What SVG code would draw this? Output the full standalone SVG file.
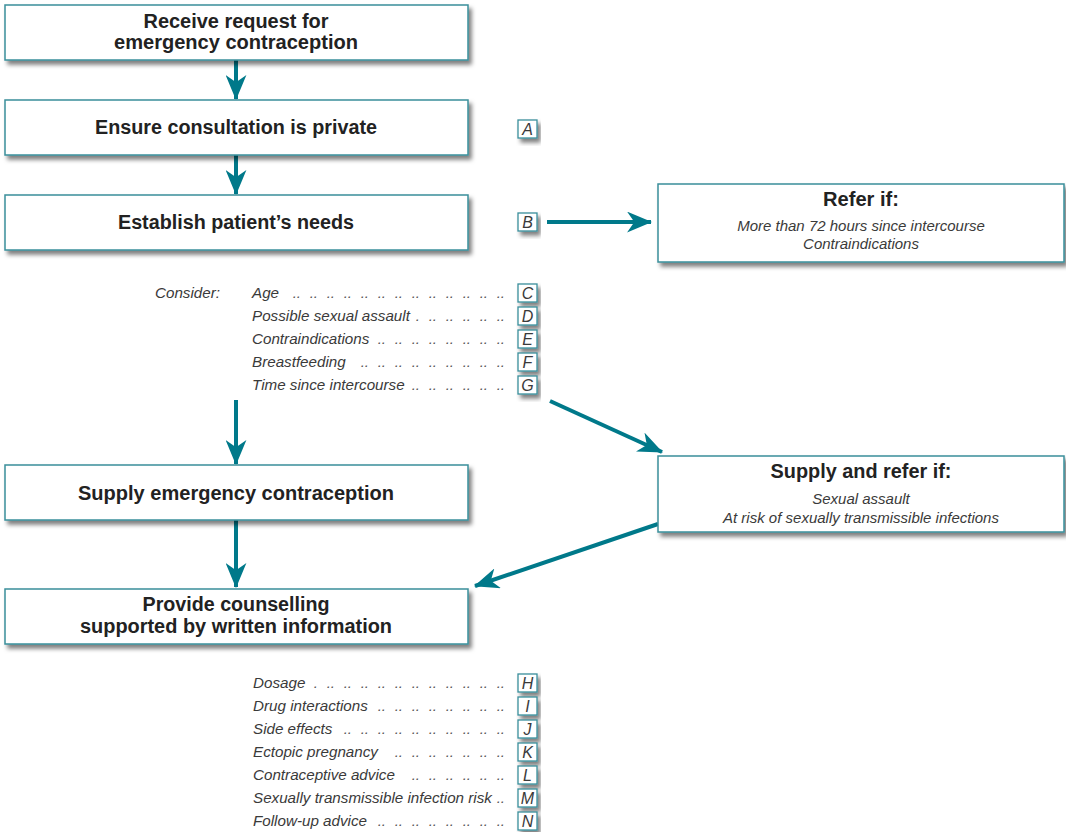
<svg xmlns="http://www.w3.org/2000/svg" width="1066" height="832" viewBox="0 0 1066 832">
<defs>
<filter id="sh" x="-10%" y="-20%" width="130%" height="160%">
<feDropShadow dx="3" dy="4" stdDeviation="2.2" flood-color="#000" flood-opacity="0.5"/>
</filter>
<marker id="ah" viewBox="0 0 24 20" refX="23" refY="10" markerWidth="25" markerHeight="21" markerUnits="userSpaceOnUse" orient="auto">
<path d="M0,0 L24,10 L0,20 L7,10 Z" fill="#00798a"/>
</marker>
</defs>
<style>
.box{fill:#fff;stroke:#3a8f9b;stroke-width:1.5;filter:url(#sh)}
.lb{fill:#fff;stroke:#3a8f9b;stroke-width:1.3;filter:url(#sh)}
.t{font-family:"Liberation Sans",Arial,sans-serif;font-weight:bold;font-size:19.5px;fill:#222;text-anchor:middle}
.i{font-family:"Liberation Sans",Arial,sans-serif;font-style:italic;font-size:15.2px;fill:#3a3a3a}
.ic{font-family:"Liberation Sans",Arial,sans-serif;font-style:italic;font-size:15px;fill:#3a3a3a;text-anchor:middle}
.d{font-family:"Liberation Sans",Arial,sans-serif;font-style:italic;font-size:15px;fill:#555;text-anchor:end;word-spacing:4.5px}
.ltr{font-family:"Liberation Sans",Arial,sans-serif;font-style:italic;font-size:16px;fill:#3a3a3a;text-anchor:middle}
.c{stroke:#00798a;stroke-width:4;fill:none;marker-end:url(#ah)}
</style>

<g id="connectors">
<line class="c" x1="236" y1="60" x2="236" y2="99"/>
<line class="c" x1="236" y1="155" x2="236" y2="194"/>
<line class="c" x1="547" y1="222" x2="651" y2="222"/>
<line class="c" x1="236" y1="400" x2="236" y2="464"/>
<line class="c" x1="550" y1="401" x2="662" y2="452"/>
<line class="c" x1="236" y1="520" x2="236" y2="587"/>
<line class="c" x1="658" y1="524" x2="475" y2="586"/>
</g>

<g id="n1">
<rect class="box" x="5" y="5" width="463" height="55"/>
<text class="t" x="236" y="28" textLength="185" lengthAdjust="spacingAndGlyphs">Receive request for</text>
<text class="t" x="236" y="49" textLength="244" lengthAdjust="spacingAndGlyphs">emergency contraception</text>
</g>

<g id="n2">
<rect class="box" x="5" y="100" width="463" height="55"/>
<text class="t" x="236" y="134" textLength="282" lengthAdjust="spacingAndGlyphs">Ensure consultation is private</text>
</g>

<g id="n3">
<rect class="box" x="5" y="195" width="463" height="55"/>
<text class="t" x="236" y="229" textLength="236" lengthAdjust="spacingAndGlyphs">Establish patient’s needs</text>
</g>

<g id="lA">
<rect class="lb" x="518" y="120" width="19" height="18"/>
<text class="ltr" x="527.5" y="135">A</text>
</g>
<g id="lB">
<rect class="lb" x="518" y="213" width="19" height="18"/>
<text class="ltr" x="527.5" y="228">B</text>
</g>

<g id="refer">
<rect class="box" x="658" y="184" width="406" height="78"/>
<text class="t" x="861" y="206" textLength="76" lengthAdjust="spacingAndGlyphs">Refer if:</text>
<text class="ic" x="861" y="231">More than 72 hours since intercourse</text>
<text class="ic" x="861" y="249">Contraindications</text>
</g>

<g id="consider">
<text class="i" x="155" y="298">Consider:</text>
<text class="i" x="252" y="298">Age</text>
<text class="d" x="505" y="298">.. .. .. .. .. .. .. .. .. .. .. .. ..</text>
<text class="i" x="252" y="321">Possible sexual assault</text>
<text class="d" x="505" y="321">. .. .. .. .. ..</text>
<text class="i" x="252" y="344">Contraindications</text>
<text class="d" x="505" y="344">.. .. .. .. .. .. .. ..</text>
<text class="i" x="252" y="367">Breastfeeding</text>
<text class="d" x="505" y="367">.. .. .. .. .. .. .. .. ..</text>
<text class="i" x="252" y="390">Time since intercourse</text>
<text class="d" x="505" y="390">.. .. .. .. .. ..</text>
</g>
<g id="lC"><rect class="lb" x="518" y="284" width="19" height="18"/><text class="ltr" x="527.5" y="299">C</text></g>
<g id="lD"><rect class="lb" x="518" y="307" width="19" height="18"/><text class="ltr" x="527.5" y="322">D</text></g>
<g id="lE"><rect class="lb" x="518" y="330" width="19" height="18"/><text class="ltr" x="527.5" y="345">E</text></g>
<g id="lF"><rect class="lb" x="518" y="353" width="19" height="18"/><text class="ltr" x="527.5" y="368">F</text></g>
<g id="lG"><rect class="lb" x="518" y="376" width="19" height="18"/><text class="ltr" x="527.5" y="391">G</text></g>

<g id="n4">
<rect class="box" x="5" y="465" width="463" height="55"/>
<text class="t" x="236" y="500" textLength="316" lengthAdjust="spacingAndGlyphs">Supply emergency contraception</text>
</g>

<g id="supplyrefer">
<rect class="box" x="658" y="456" width="406" height="76"/>
<text class="t" x="861" y="478" textLength="181" lengthAdjust="spacingAndGlyphs">Supply and refer if:</text>
<text class="ic" x="861" y="504">Sexual assault</text>
<text class="ic" x="861" y="523">At risk of sexually transmissible infections</text>
</g>

<g id="n5">
<rect class="box" x="5" y="589" width="463" height="55"/>
<text class="t" x="236" y="611" textLength="187" lengthAdjust="spacingAndGlyphs">Provide counselling</text>
<text class="t" x="236" y="633" textLength="312" lengthAdjust="spacingAndGlyphs">supported by written information</text>
</g>

<g id="counsel">
<text class="i" x="253" y="688">Dosage</text>
<text class="d" x="505" y="688">. .. .. .. .. .. .. .. .. .. .. ..</text>
<text class="i" x="253" y="711">Drug interactions</text>
<text class="d" x="505" y="711">.. .. .. .. .. .. .. ..</text>
<text class="i" x="253" y="734">Side effects</text>
<text class="d" x="505" y="734">.. .. .. .. .. .. .. .. .. ..</text>
<text class="i" x="253" y="757">Ectopic pregnancy</text>
<text class="d" x="505" y="757">.. .. .. .. .. .. ..</text>
<text class="i" x="253" y="780">Contraceptive advice</text>
<text class="d" x="505" y="780">.. .. .. .. .. ..</text>
<text class="i" x="253" y="803">Sexually transmissible infection risk</text>
<text class="d" x="505" y="803">..</text>
<text class="i" x="253" y="826">Follow-up advice</text>
<text class="d" x="505" y="826">.. .. .. .. .. .. .. ..</text>
</g>
<g id="lH"><rect class="lb" x="518" y="674" width="19" height="18"/><text class="ltr" x="527.5" y="689">H</text></g>
<g id="lI"><rect class="lb" x="518" y="697" width="19" height="18"/><text class="ltr" x="527.5" y="712">I</text></g>
<g id="lJ"><rect class="lb" x="518" y="720" width="19" height="18"/><text class="ltr" x="527.5" y="735">J</text></g>
<g id="lK"><rect class="lb" x="518" y="743" width="19" height="18"/><text class="ltr" x="527.5" y="758">K</text></g>
<g id="lL"><rect class="lb" x="518" y="766" width="19" height="18"/><text class="ltr" x="527.5" y="781">L</text></g>
<g id="lM"><rect class="lb" x="518" y="789" width="19" height="18"/><text class="ltr" x="527.5" y="804">M</text></g>
<g id="lN"><rect class="lb" x="518" y="812" width="19" height="18"/><text class="ltr" x="527.5" y="827">N</text></g>
</svg>
